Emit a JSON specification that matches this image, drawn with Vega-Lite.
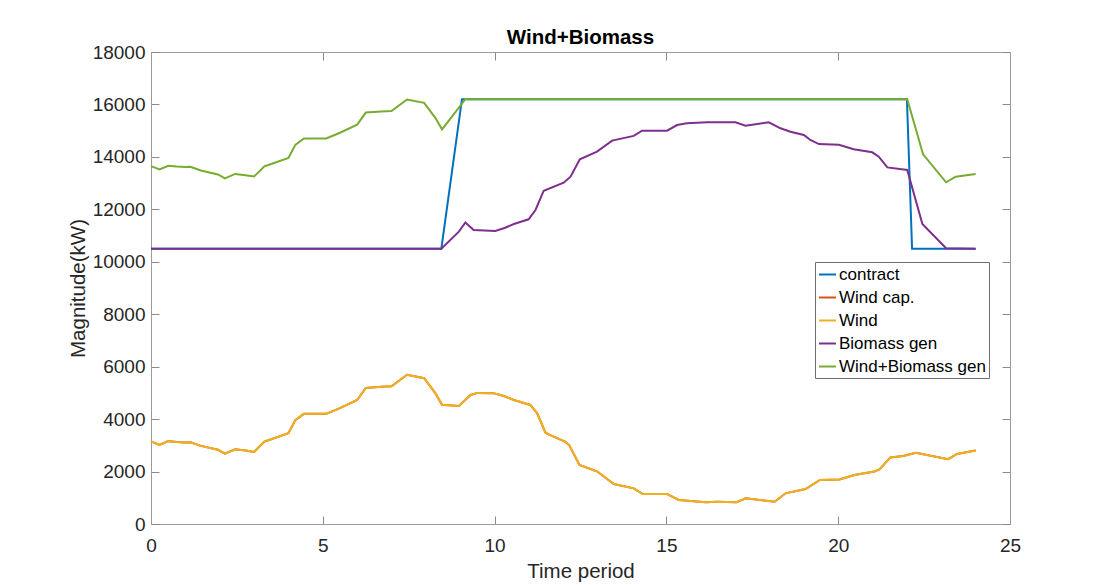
{
  "$schema": "https://vega.github.io/schema/vega-lite/v6.json",
  "width": 859,
  "height": 472,
  "autosize": "none",
  "padding": {"left": 151, "top": 52, "right": 104, "bottom": 61},
  "background": "white",
  "title": {
    "text": "Wind+Biomass",
    "font": "Liberation Sans",
    "fontSize": 20.5,
    "fontWeight": "bold",
    "color": "#000000",
    "anchor": "middle",
    "frame": "group",
    "baseline": "bottom",
    "offset": 4,
    "dy": 29
  },
  "datasets": {
    "series": [
      {"s": "contract", "t": 0, "v": 10500},
      {"s": "contract", "t": 8.45, "v": 10500},
      {"s": "contract", "t": 9.05, "v": 16200},
      {"s": "contract", "t": 22.0, "v": 16200},
      {"s": "contract", "t": 22.15, "v": 10500},
      {"s": "contract", "t": 24, "v": 10500},

      {"s": "Wind", "t": 0, "v": 3150},
      {"s": "Wind", "t": 0.25, "v": 3020},
      {"s": "Wind", "t": 0.5, "v": 3160},
      {"s": "Wind", "t": 0.75, "v": 3130},
      {"s": "Wind", "t": 1.0, "v": 3110},
      {"s": "Wind", "t": 1.15, "v": 3120},
      {"s": "Wind", "t": 1.45, "v": 2980},
      {"s": "Wind", "t": 1.95, "v": 2830},
      {"s": "Wind", "t": 2.15, "v": 2680},
      {"s": "Wind", "t": 2.45, "v": 2850},
      {"s": "Wind", "t": 2.75, "v": 2800},
      {"s": "Wind", "t": 3.0, "v": 2750},
      {"s": "Wind", "t": 3.3, "v": 3140},
      {"s": "Wind", "t": 3.5, "v": 3230},
      {"s": "Wind", "t": 4.0, "v": 3460},
      {"s": "Wind", "t": 4.2, "v": 3960},
      {"s": "Wind", "t": 4.45, "v": 4200},
      {"s": "Wind", "t": 5.1, "v": 4200},
      {"s": "Wind", "t": 5.5, "v": 4420},
      {"s": "Wind", "t": 6.0, "v": 4730},
      {"s": "Wind", "t": 6.25, "v": 5190},
      {"s": "Wind", "t": 6.7, "v": 5230},
      {"s": "Wind", "t": 7.0, "v": 5250},
      {"s": "Wind", "t": 7.45, "v": 5690},
      {"s": "Wind", "t": 7.95, "v": 5560},
      {"s": "Wind", "t": 8.28, "v": 4980},
      {"s": "Wind", "t": 8.47, "v": 4550},
      {"s": "Wind", "t": 8.96, "v": 4500},
      {"s": "Wind", "t": 9.3, "v": 4920},
      {"s": "Wind", "t": 9.5, "v": 5000},
      {"s": "Wind", "t": 9.97, "v": 4990},
      {"s": "Wind", "t": 10.27, "v": 4880},
      {"s": "Wind", "t": 10.56, "v": 4730},
      {"s": "Wind", "t": 11.04, "v": 4540},
      {"s": "Wind", "t": 11.24, "v": 4220},
      {"s": "Wind", "t": 11.48, "v": 3480},
      {"s": "Wind", "t": 11.62, "v": 3390},
      {"s": "Wind", "t": 12.05, "v": 3140},
      {"s": "Wind", "t": 12.17, "v": 3010},
      {"s": "Wind", "t": 12.47, "v": 2250},
      {"s": "Wind", "t": 12.99, "v": 2000},
      {"s": "Wind", "t": 13.47, "v": 1525},
      {"s": "Wind", "t": 14.05, "v": 1360},
      {"s": "Wind", "t": 14.31, "v": 1145},
      {"s": "Wind", "t": 15.01, "v": 1145},
      {"s": "Wind", "t": 15.36, "v": 915},
      {"s": "Wind", "t": 16.15, "v": 830},
      {"s": "Wind", "t": 16.47, "v": 850},
      {"s": "Wind", "t": 17.04, "v": 830},
      {"s": "Wind", "t": 17.31, "v": 980},
      {"s": "Wind", "t": 18.15, "v": 850},
      {"s": "Wind", "t": 18.47, "v": 1170},
      {"s": "Wind", "t": 19.05, "v": 1335},
      {"s": "Wind", "t": 19.47, "v": 1680},
      {"s": "Wind", "t": 20.04, "v": 1700},
      {"s": "Wind", "t": 20.47, "v": 1870},
      {"s": "Wind", "t": 21.05, "v": 2000},
      {"s": "Wind", "t": 21.2, "v": 2085},
      {"s": "Wind", "t": 21.52, "v": 2540},
      {"s": "Wind", "t": 21.89, "v": 2595},
      {"s": "Wind", "t": 22.26, "v": 2720},
      {"s": "Wind", "t": 23.2, "v": 2470},
      {"s": "Wind", "t": 23.46, "v": 2670},
      {"s": "Wind", "t": 24.0, "v": 2800},

      {"s": "Biomass gen", "t": 0, "v": 10500},
      {"s": "Biomass gen", "t": 8.45, "v": 10500},
      {"s": "Biomass gen", "t": 8.96, "v": 11150},
      {"s": "Biomass gen", "t": 9.15, "v": 11500},
      {"s": "Biomass gen", "t": 9.39, "v": 11210},
      {"s": "Biomass gen", "t": 10.02, "v": 11175},
      {"s": "Biomass gen", "t": 10.31, "v": 11300},
      {"s": "Biomass gen", "t": 10.56, "v": 11440},
      {"s": "Biomass gen", "t": 10.99, "v": 11620},
      {"s": "Biomass gen", "t": 11.19, "v": 11975},
      {"s": "Biomass gen", "t": 11.43, "v": 12710},
      {"s": "Biomass gen", "t": 12.01, "v": 13015},
      {"s": "Biomass gen", "t": 12.21, "v": 13245},
      {"s": "Biomass gen", "t": 12.48, "v": 13910},
      {"s": "Biomass gen", "t": 12.98, "v": 14200},
      {"s": "Biomass gen", "t": 13.42, "v": 14620},
      {"s": "Biomass gen", "t": 14.05, "v": 14800},
      {"s": "Biomass gen", "t": 14.29, "v": 15000},
      {"s": "Biomass gen", "t": 15.02, "v": 15000},
      {"s": "Biomass gen", "t": 15.31, "v": 15215},
      {"s": "Biomass gen", "t": 15.6, "v": 15280},
      {"s": "Biomass gen", "t": 16.19, "v": 15320},
      {"s": "Biomass gen", "t": 17.01, "v": 15320},
      {"s": "Biomass gen", "t": 17.3, "v": 15190},
      {"s": "Biomass gen", "t": 17.98, "v": 15320},
      {"s": "Biomass gen", "t": 18.32, "v": 15090},
      {"s": "Biomass gen", "t": 18.61, "v": 14960},
      {"s": "Biomass gen", "t": 19.0, "v": 14835},
      {"s": "Biomass gen", "t": 19.19, "v": 14645},
      {"s": "Biomass gen", "t": 19.44, "v": 14490},
      {"s": "Biomass gen", "t": 20.02, "v": 14465},
      {"s": "Biomass gen", "t": 20.45, "v": 14290},
      {"s": "Biomass gen", "t": 20.99, "v": 14175},
      {"s": "Biomass gen", "t": 21.18, "v": 14010},
      {"s": "Biomass gen", "t": 21.43, "v": 13600},
      {"s": "Biomass gen", "t": 22.01, "v": 13500},
      {"s": "Biomass gen", "t": 22.45, "v": 11440},
      {"s": "Biomass gen", "t": 23.14, "v": 10515},
      {"s": "Biomass gen", "t": 24.0, "v": 10500},

      {"s": "Wind+Biomass gen", "t": 0, "v": 13650},
      {"s": "Wind+Biomass gen", "t": 0.25, "v": 13520},
      {"s": "Wind+Biomass gen", "t": 0.5, "v": 13660},
      {"s": "Wind+Biomass gen", "t": 0.75, "v": 13630},
      {"s": "Wind+Biomass gen", "t": 1.0, "v": 13610},
      {"s": "Wind+Biomass gen", "t": 1.15, "v": 13620},
      {"s": "Wind+Biomass gen", "t": 1.45, "v": 13480},
      {"s": "Wind+Biomass gen", "t": 1.95, "v": 13330},
      {"s": "Wind+Biomass gen", "t": 2.15, "v": 13180},
      {"s": "Wind+Biomass gen", "t": 2.45, "v": 13350},
      {"s": "Wind+Biomass gen", "t": 2.75, "v": 13300},
      {"s": "Wind+Biomass gen", "t": 3.0, "v": 13250},
      {"s": "Wind+Biomass gen", "t": 3.3, "v": 13640},
      {"s": "Wind+Biomass gen", "t": 3.5, "v": 13730},
      {"s": "Wind+Biomass gen", "t": 4.0, "v": 13960},
      {"s": "Wind+Biomass gen", "t": 4.2, "v": 14460},
      {"s": "Wind+Biomass gen", "t": 4.45, "v": 14700},
      {"s": "Wind+Biomass gen", "t": 5.1, "v": 14700},
      {"s": "Wind+Biomass gen", "t": 5.5, "v": 14920},
      {"s": "Wind+Biomass gen", "t": 6.0, "v": 15230},
      {"s": "Wind+Biomass gen", "t": 6.25, "v": 15690},
      {"s": "Wind+Biomass gen", "t": 6.7, "v": 15730},
      {"s": "Wind+Biomass gen", "t": 7.0, "v": 15750},
      {"s": "Wind+Biomass gen", "t": 7.45, "v": 16190},
      {"s": "Wind+Biomass gen", "t": 7.95, "v": 16060},
      {"s": "Wind+Biomass gen", "t": 8.28, "v": 15480},
      {"s": "Wind+Biomass gen", "t": 8.47, "v": 15050},
      {"s": "Wind+Biomass gen", "t": 9.15, "v": 16200},
      {"s": "Wind+Biomass gen", "t": 22.01, "v": 16200},
      {"s": "Wind+Biomass gen", "t": 22.47, "v": 14100},
      {"s": "Wind+Biomass gen", "t": 23.14, "v": 13030},
      {"s": "Wind+Biomass gen", "t": 23.42, "v": 13245},
      {"s": "Wind+Biomass gen", "t": 24.0, "v": 13350}
    ]
  },
  "data": {"name": "series"},
  "layer": [
    {
      "description": "Box frame: top and right axes with inward ticks, no labels",
      "mark": {"type": "line", "strokeOpacity": 0},
      "encoding": {
        "x": {"field": "t", "type": "quantitative",
              "scale": {"domain": [0, 25], "nice": false, "zero": false},
              "axis": {"orient": "top", "labels": false, "title": null, "values": [0, 5, 10, 15, 20, 25]}},
        "y": {"field": "v", "type": "quantitative",
              "scale": {"domain": [0, 18000], "nice": false},
              "axis": {"orient": "right", "labels": false, "title": null, "values": [0, 2000, 4000, 6000, 8000, 10000, 12000, 14000, 16000, 18000]}}
      }
    },
    {
      "encoding": {
        "x": {"field": "t", "type": "quantitative",
              "axis": {"orient": "bottom", "title": "Time period", "values": [0, 5, 10, 15, 20, 25],
                       "labelPadding": 20, "titlePadding": 6}},
        "y": {"field": "v", "type": "quantitative",
              "axis": {"orient": "left", "title": "Magnitude(kW)", "format": "d",
                       "values": [0, 2000, 4000, 6000, 8000, 10000, 12000, 14000, 16000, 18000],
                       "labelPadding": 14, "titlePadding": 4}},
        "color": {"field": "s", "type": "nominal",
                  "scale": {"domain": ["contract", "Wind cap.", "Wind", "Biomass gen", "Wind+Biomass gen"],
                            "range": ["#0072BD", "#D95319", "#EDB120", "#7E2F8E", "#77AC30"]},
                  "legend": {"title": null, "orient": "none", "legendX": 664, "legendY": 210,
                             "symbolType": "stroke", "symbolSize": 289, "symbolStrokeWidth": 2,
                             "labelFont": "Liberation Sans", "labelFontSize": 17, "labelColor": "#000000",
                             "labelOffset": 2, "rowPadding": 5, "padding": 3,
                             "strokeColor": "#6e6e6e", "fillColor": "#ffffff", "labelLimit": 300}}
      },
      "layer": [
        {"transform": [{"filter": "datum.s === 'contract'"}], "mark": {"type": "line", "strokeWidth": 2}},
        {"transform": [{"filter": "datum.s === 'Wind'"}, {"calculate": "'Wind cap.'", "as": "s"}], "mark": {"type": "line", "strokeWidth": 2}},
        {"transform": [{"filter": "datum.s === 'Wind'"}], "mark": {"type": "line", "strokeWidth": 2}},
        {"transform": [{"filter": "datum.s === 'Biomass gen'"}], "mark": {"type": "line", "strokeWidth": 2}},
        {"transform": [{"filter": "datum.s === 'Wind+Biomass gen'"}], "mark": {"type": "line", "strokeWidth": 2}}
      ]
    }
  ],
  "resolve": {"axis": {"x": "independent", "y": "independent"}},
  "config": {
    "font": "Liberation Sans",
    "view": {"stroke": null},
    "axis": {
      "domainColor": "#9a9a9a",
      "domainWidth": 1,
      "tickColor": "#8a8a8a",
      "tickSize": -8,
      "tickWidth": 1,
      "grid": false,
      "labelFont": "Liberation Sans",
      "labelFontSize": 19,
      "labelColor": "#262626",
      "titleFont": "Liberation Sans",
      "titleFontSize": 20.5,
      "titleFontWeight": "normal",
      "titleColor": "#262626",
      "labelFlush": false,
      "labelOverlap": false
    }
  }
}
